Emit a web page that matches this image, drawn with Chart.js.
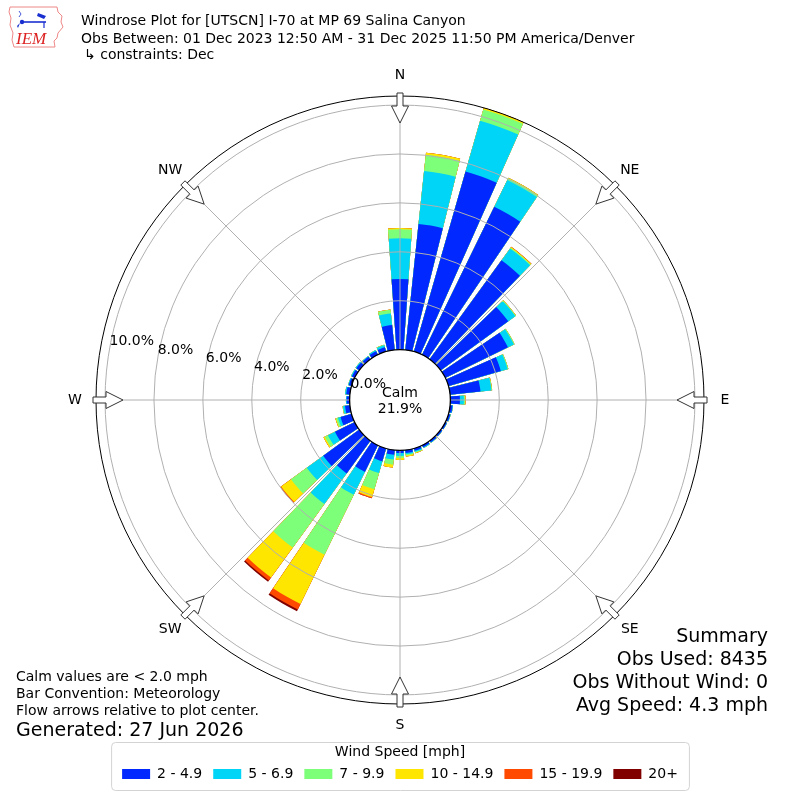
<!DOCTYPE html>
<html>
<head>
<meta charset="utf-8">
<script src="https://cdn.jsdelivr.net/npm/chart.js@4.4.1/dist/chart.umd.min.js"></script>
<style>
  html, body { margin: 0; padding: 0; background: #fff; }
  #wrap { position: relative; width: 800px; height: 800px; overflow: hidden;
          font-family: 'DejaVu Sans', sans-serif; color: #000; }
  #c { position: absolute; left: 0; top: 0; }
  .t { position: absolute; white-space: nowrap; font-size: 14px; line-height: 17px; }
  .big { position: absolute; white-space: nowrap; font-size: 19px; line-height: 23.3px; }
  #logo { position: absolute; left: 0; top: 0; }
</style>
</head>
<body>
<div id="wrap">
  <canvas id="c" width="800" height="800"></canvas>
  <svg id="logo" width="72" height="54" viewBox="0 0 72 54">
    <path d="M10,7 L57,7 L58,12 L62,16 L61,22 L63,27 L58,33 L57,38 L54,41 L55,47 L14,47 L12,40 L13,33 L10,25 L11,18 L9,12 Z"
          fill="#fff" stroke="#e88" stroke-width="1"/>
    <circle cx="22" cy="22" r="2.2" fill="#1a2fd0"/>
    <line x1="22" y1="22" x2="46" y2="22" stroke="#1a2fd0" stroke-width="1.6"/>
    <path d="M38,13 L46,16 L44,19 L37,16 Z" fill="#1a2fd0"/>
    <line x1="44" y1="22" x2="44" y2="28" stroke="#1a2fd0" stroke-width="1.2"/>
    <path d="M19,11 L21,14 L19,17" fill="none" stroke="#1a2fd0" stroke-width="0.8"/>
    <path d="M17,26 L20,23 L18,28 Z" fill="#1a2fd0"/>
    <text x="16" y="44" font-family="'Liberation Serif', serif" font-style="italic" font-size="17" fill="#d22">IEM</text>
  </svg>
  <div class="t" style="left:81px; top:11.5px;">Windrose Plot for [UTSCN] I-70 at MP 69 Salina Canyon</div>
  <div class="t" style="left:81px; top:29.5px;">Obs Between: 01 Dec 2023 12:50 AM - 31 Dec 2025 11:50 PM America/Denver</div>
  <div class="t" style="left:84px; top:45.5px;">↳ constraints: Dec</div>

  <div class="t" style="left:16px; top:667.5px;">Calm values are &lt; 2.0 mph<br>Bar Convention: Meteorology<br>Flow arrows relative to plot center.</div>
  <div class="big" style="left:16px; top:717.5px;">Generated: 27 Jun 2026</div>

  <div class="big" id="summary" style="right:32px; top:623.5px; text-align:right;"></div>
</div>

<script>
// ---------------- data ----------------
const directions = [0,10,20,30,40,50,60,70,80,90,100,110,120,130,140,150,160,170,
                    180,190,200,210,220,230,240,250,260,270,280,290,300,310,320,330,340,350];
const speedBins = ['2 - 4.9', '5 - 6.9', '7 - 9.9', '10 - 14.9', '15 - 19.9', '20+'];
const binColors = ['#0028ff', '#00d5f7', '#7dff7a', '#ffe600', '#ff4a00', '#800000'];

// percent of observations per direction, per speed class
const speed2to5   = [2.89,5.18,7.66,6.73,5.00,3.41,2.85,2.23,1.25,0.39,0.10,0.08,0.07,0.07,0.08,0.09,0.10,0.12,
                     0.11,0.19,0.55,1.21,1.65,1.82,0.90,0.47,0.20,0.12,0.15,0.12,0.13,0.15,0.13,0.16,0.18,1.02];
const speed5to7   = [1.66,2.17,2.16,1.22,0.60,0.36,0.27,0.29,0.45,0.16,0.02,0.02,0.01,0.01,0.02,0.03,0.05,0.05,
                     0.12,0.20,0.50,1.04,1.55,0.83,0.32,0.11,0.08,0.03,0.05,0.03,0.04,0.04,0.03,0.05,0.09,0.48];
const speed7to10  = [0.37,0.67,0.48,0.08,0.04,0.03,0.03,0.03,0.02,0.05,0,0,0,0,0,0,0.03,0.05,
                     0.08,0.21,0.69,2.73,2.20,0.80,0.14,0.08,0.02,0,0,0,0,0,0,0,0.02,0.15];
const speed10to15 = [0.05,0.09,0.07,0.02,0.03,0.01,0,0,0.01,0.02,0,0,0,0,0,0,0.02,0.05,
                     0.08,0.12,0.33,2.24,1.51,0.50,0.06,0.03,0,0,0,0,0,0,0,0,0,0.01];
const speed15to20 = [0,0,0,0,0.01,0,0,0,0,0,0,0,0,0,0,0,0,0,
                     0,0,0.05,0.25,0.15,0.04,0,0,0,0,0,0,0,0,0,0,0,0];
const speed20plus = [0,0,0,0,0,0,0,0,0,0,0,0,0,0,0,0,0,0,
                     0,0,0,0.08,0.06,0,0,0,0,0,0,0,0,0,0,0,0,0];

const calmPercent = 21.9;
const radialTicks = [0, 2, 4, 6, 8, 10];
const compassLabels = ['N', 'NE', 'E', 'SE', 'S', 'SW', 'W', 'NW'];
const summaryLines = ['Summary', 'Obs Used: 8435', 'Obs Without Wind: 0', 'Avg Speed: 4.3 mph'];

// ---------------- build stacked (cumulative) table ----------------
const classSeries = [speed2to5, speed5to7, speed7to10, speed10to15, speed15to20, speed20plus];
const cumulative = [];
classSeries.forEach((series, k) => {
  cumulative.push(series.map((v, i) => (k === 0 ? 0 : cumulative[k - 1][i]) + v));
});
// each direction is a bar slot followed by a narrow empty slot (the white gap between bars)
const BAR_DEG = 8, GAP_DEG = 2;
const slotLabels = [];
directions.forEach(d => { slotLabels.push(d + '°'); slotLabels.push(''); });
const slotData = arr => { const out = []; arr.forEach(v => { out.push(v); out.push(null); }); return out; };

document.getElementById('summary').innerHTML = summaryLines.join('<br>');

Chart.defaults.font.family = "'DejaVu Sans', sans-serif";
Chart.defaults.font.size = 14;
Chart.defaults.color = '#000';

function roundRectPath(ctx, x, y, w, h, r) {
  ctx.beginPath();
  ctx.moveTo(x + r, y);
  ctx.arcTo(x + w, y, x + w, y + h, r);
  ctx.arcTo(x + w, y + h, x, y + h, r);
  ctx.arcTo(x, y + h, x, y, r);
  ctx.arcTo(x, y, x + w, y, r);
  ctx.closePath();
}

const windroseDecor = {
  id: 'windroseDecor',
  beforeDraw(chart) {
    const lg = chart.legend;
    if (!lg || !lg.legendHitBoxes || !lg.legendHitBoxes.length) return;
    const hb = lg.legendHitBoxes;
    const left = hb[0].left - 11;
    const last = hb[hb.length - 1];
    const right = last.left + last.width + 11;
    const ctx = chart.ctx;
    ctx.save();
    roundRectPath(ctx, left + 0.5, lg.top + 1.5, right - left, 48, 4);
    ctx.fillStyle = 'rgba(255,255,255,0.8)';
    ctx.fill();
    ctx.strokeStyle = '#d3d3d3';
    ctx.lineWidth = 1;
    ctx.stroke();
    ctx.restore();
  },
  afterDatasetsDraw(chart) {
    const s = chart.scales.r;
    const ctx = chart.ctx;
    const cx = s.xCenter, cy = s.yCenter, R = s.drawingArea;
    const pt = (deg, r, t = 0) => {
      const a = deg * Math.PI / 180;
      return [cx + r * Math.sin(a) + t * Math.cos(a), cy - r * Math.cos(a) + t * Math.sin(a)];
    };
    ctx.save();
    // grid rings and compass lines (drawn over bars, like the reference)
    ctx.strokeStyle = '#b0b0b0';
    ctx.lineWidth = 1;
    radialTicks.forEach(v => {
      if (v <= 0) return;
      ctx.beginPath();
      ctx.arc(cx, cy, s.getDistanceFromCenterForValue(v), 0, Math.PI * 2);
      ctx.stroke();
    });
    for (let k = 0; k < 8; k++) {
      const [x, y] = pt(k * 45, R);
      ctx.beginPath(); ctx.moveTo(cx, cy); ctx.lineTo(x, y); ctx.stroke();
    }
    // outer frame
    ctx.strokeStyle = '#000';
    ctx.beginPath(); ctx.arc(cx, cy, R, 0, Math.PI * 2); ctx.stroke();
    // calm circle
    const r0 = s.getDistanceFromCenterForValue(0);
    ctx.fillStyle = '#fff';
    ctx.beginPath(); ctx.arc(cx, cy, r0, 0, Math.PI * 2); ctx.fill();
    ctx.lineWidth = 1.3; ctx.strokeStyle = '#000'; ctx.stroke();
    // radial tick labels
    ctx.font = "14px 'DejaVu Sans'";
    ctx.fillStyle = '#000';
    ctx.textAlign = 'left';
    ctx.textBaseline = 'bottom';
    radialTicks.forEach(v => {
      const [x, y] = pt(280, s.getDistanceFromCenterForValue(v));
      ctx.fillText(v.toFixed(1) + '%', x, y);
    });
    // calm text
    ctx.textAlign = 'center';
    ctx.textBaseline = 'alphabetic';
    ctx.fillText('Calm', cx, cy - 3.5);
    ctx.fillText(calmPercent.toFixed(1) + '%', cx, cy + 12.5);
    // flow arrows
    const shape = [[R + 3, -3], [R - 10, -3], [R - 10, -8.5], [R - 27, 0], [R - 10, 8.5], [R - 10, 3], [R + 3, 3]];
    ctx.lineWidth = 1;
    ctx.strokeStyle = '#333';
    ctx.fillStyle = '#fff';
    for (let k = 0; k < 8; k++) {
      ctx.beginPath();
      shape.forEach(([r, t], i) => {
        const [x, y] = pt(k * 45, r, t);
        if (i === 0) ctx.moveTo(x, y); else ctx.lineTo(x, y);
      });
      ctx.closePath();
      ctx.fill();
      ctx.stroke();
    }
    // compass labels
    ctx.fillStyle = '#000';
    ctx.textAlign = 'center';
    ctx.textBaseline = 'middle';
    compassLabels.forEach((lab, k) => {
      const [x, y] = pt(k * 45, R + 21);
      ctx.fillText(lab, x, y);
    });
    ctx.restore();
  }
};

new Chart(document.getElementById('c'), {
  type: 'polarArea',
  data: {
    labels: slotLabels,
    datasets: speedBins.map((label, k) => ({
      label,
      data: slotData(cumulative[k]),
      backgroundColor: binColors[k],
      borderWidth: 0,
      angle: (ctx) => (ctx.dataIndex % 2 === 0 ? BAR_DEG : GAP_DEG)
    }))
  },
  options: {
    responsive: false,
    animation: false,
    events: [],
    layout: { padding: { left: 96, right: 96, top: 59, bottom: 9 } },
    scales: {
      r: {
        type: 'radialLinear',
        min: -2.06,
        max: 10.37,
        bounds: 'ticks',
        startAngle: -BAR_DEG / 2,
        beginAtZero: false,
        ticks: { display: false, stepSize: 2 },
        grid: { display: false },
        angleLines: { display: false },
        pointLabels: { display: false }
      }
    },
    plugins: {
      tooltip: { enabled: false },
      legend: {
        position: 'bottom',
        title: { display: true, text: 'Wind Speed [mph]', color: '#000',
                 font: { size: 14 }, padding: { top: 4, bottom: -5.8 } },
        labels: {
          boxWidth: 28,
          boxHeight: 10,
          padding: 11,
          color: '#000',
          font: { size: 14 },
          generateLabels: (chart) => chart.data.datasets.map((ds, i) => ({
            text: ds.label,
            fillStyle: binColors[i],
            strokeStyle: binColors[i],
            fontColor: '#000',
            lineWidth: 0,
            hidden: false,
            datasetIndex: i
          }))
        }
      }
    }
  },
  plugins: [windroseDecor]
});
</script>
</body>
</html>
